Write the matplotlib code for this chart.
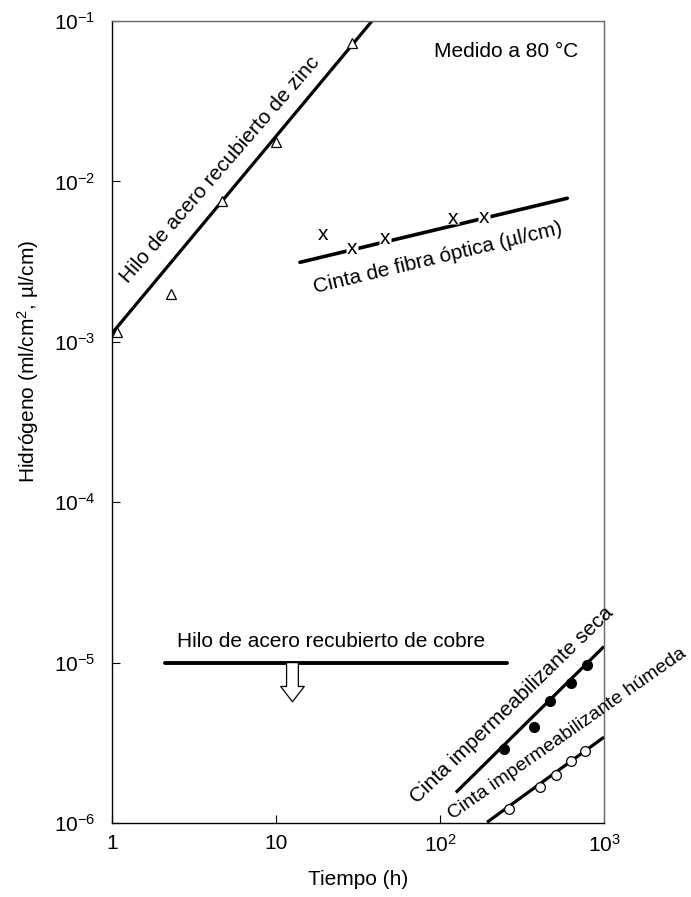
import matplotlib
matplotlib.use("Agg")
import matplotlib.pyplot as plt

plt.rcParams['font.family'] = ['Liberation Sans', 'DejaVu Sans']
plt.rcParams['mathtext.default'] = 'regular'

# zinc coated steel wire (triangles) + fitted line
zinc_t = [1.08, 2.29, 4.69, 10.0, 28.9]
zinc_h = [1.15e-3, 2.0e-3, 7.55e-3, 1.76e-2, 7.3e-2]
zinc_fit_t = [1.0, 38.5]
zinc_fit_h = [1.13e-3, 0.1]

# optical fibre tape (x marks) + fitted line
fibra_t = [19.3, 28.9, 46.2, 120.5, 185.0]
fibra_h = [4.68e-3, 3.83e-3, 4.38e-3, 5.89e-3, 5.97e-3]
fibra_fit_t = [14.0, 597.0]
fibra_fit_h = [3.13e-3, 7.85e-3]

# copper coated steel wire (upper bound)
cobre_t = [2.10, 257.0]
cobre_h = [1e-5, 1e-5]
cobre_arrow_t = 12.6
cobre_arrow_h = [1e-5, 5.7e-6]

# dry waterproof tape (filled circles)
seca_t = [247, 374, 471, 629, 784]
seca_h = [2.9e-6, 3.95e-6, 5.78e-6, 7.5e-6, 9.6e-6]
seca_fit_t = [125.0, 1000.0]
seca_fit_h = [1.55e-6, 1.26e-5]

# wet waterproof tape (open circles)
humeda_t = [263, 407, 510, 629, 766]
humeda_h = [1.22e-6, 1.68e-6, 1.98e-6, 2.44e-6, 2.83e-6]
humeda_fit_t = [193.5, 1000.0]
humeda_fit_h = [1.01e-6, 3.43e-6]

xticks = [1, 10, 100, 1000]
xticklabels = ['1', '10', '10$^{2}$', '10$^{3}$']
yticks = [1e-6, 1e-5, 1e-4, 1e-3, 1e-2, 1e-1]
yticklabels = ['10$^{-6}$', '10$^{-5}$', '10$^{-4}$', '10$^{-3}$', '10$^{-2}$', '10$^{-1}$']

fig = plt.figure(figsize=(6.91, 8.97), dpi=100)
ax = fig.add_axes([0.1621, 0.0825, 0.7120, 0.8941])
ax.set_xscale('log')
ax.set_yscale('log')
ax.set_xlim(1, 1000)
ax.set_ylim(1e-6, 1e-1)

fs = 15

# zinc
ax.plot(zinc_fit_t, zinc_fit_h, color='black', lw=2.3, solid_capstyle='butt', zorder=2)
ax.plot(zinc_t, zinc_h, '^', ms=7, mfc='white', mec='black', mew=0.9, zorder=3)
ax.text(4.56, 1.18e-2, 'Hilo de acero recubierto de zinc', fontsize=fs, rotation=49,
        rotation_mode='anchor', ha='center', va='center')

# fibre
ax.plot(fibra_fit_t, fibra_fit_h, color='black', lw=2.6, solid_capstyle='round', zorder=2)
ax.plot(fibra_t[1:], fibra_h[1:], 's', ms=9, mfc='white', mec='none', zorder=3)
for t, h in zip(fibra_t, fibra_h):
    ax.text(t, h, 'x', fontsize=fs, ha='center', va='center', zorder=4)
ax.text(97.2, 3.33e-3, 'Cinta de fibra óptica (µl/cm)', fontsize=fs, rotation=13.5,
        rotation_mode='anchor', ha='center', va='center')

ax.text(0.947, 0.9617, 'Medido a 80 °C', transform=ax.transAxes, fontsize=fs,
        ha='right', va='center')

# copper
ax.plot(cobre_t, cobre_h, color='black', lw=2.8, solid_capstyle='round', zorder=2)
ax.annotate('', xy=(cobre_arrow_t, cobre_arrow_h[1]), xytext=(cobre_arrow_t, cobre_arrow_h[0]),
            arrowprops=dict(arrowstyle='simple,head_length=1.1,head_width=1.7,tail_width=0.85',
                            fc='white', ec='black', lw=0.9, mutation_scale=10,
                            shrinkA=0, shrinkB=0))
ax.text(21.6, 1.25e-5, 'Hilo de acero recubierto de cobre', fontsize=fs,
        ha='center', va='baseline')

# dry tape
ax.plot(seca_fit_t, seca_fit_h, color='black', lw=2.3, solid_capstyle='butt', zorder=2,
        clip_on=False)
ax.plot(seca_t, seca_h, 'o', ms=7, color='black', zorder=3)
ax.text(275, 5.44e-6, 'Cinta impermeabilizante seca', fontsize=fs, rotation=44,
        rotation_mode='anchor', ha='center', va='center')

# wet tape
ax.plot(humeda_fit_t, humeda_fit_h, color='black', lw=2.3, solid_capstyle='butt', zorder=2,
        clip_on=False)
ax.plot(humeda_t, humeda_h, 'o', ms=7, mfc='white', mec='black', mew=0.9, zorder=3)
ax.text(600, 3.6e-6, 'Cinta impermeabilizante húmeda', fontsize=14, rotation=35,
        rotation_mode='anchor', ha='center', va='center')

ax.set_xticks(xticks)
ax.set_xticklabels(xticklabels)
ax.set_yticks(yticks)
ax.set_yticklabels(yticklabels)
ax.minorticks_off()
ax.tick_params(axis='both', direction='in', length=6, width=0.8, labelsize=fs)
ax.tick_params(axis='y', pad=12)
ax.tick_params(axis='x', pad=8)

for side in ['top', 'right']:
    ax.spines[side].set_color('#666666')
for side in ['left', 'bottom']:
    ax.spines[side].set_color('black')
for s in ax.spines.values():
    s.set_linewidth(1.0)

ax.set_xlabel('Tiempo (h)', fontsize=fs, labelpad=10)
fig.text(28 / 691, 1 - 361 / 897, 'Hidrógeno (ml/cm$^{2}$, µl/cm)', fontsize=fs,
         rotation=90, ha='center', va='center')

fig.savefig('out.png', dpi=100)
